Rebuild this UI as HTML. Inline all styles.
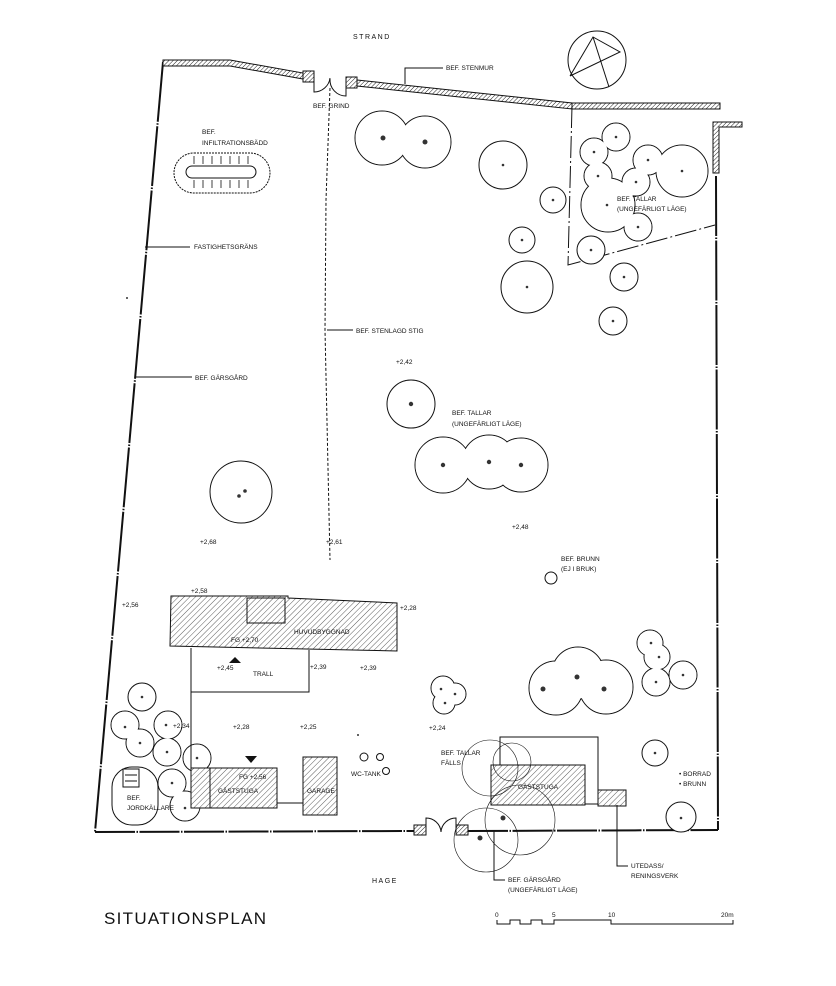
<!DOCTYPE html>
<html><head><meta charset="utf-8"><style>
html,body{margin:0;padding:0;background:#fff}
svg{display:block}
text{font-family:"Liberation Sans",sans-serif;fill:#111}
</style></head><body>
<svg width="836" height="986" viewBox="0 0 836 986" xmlns="http://www.w3.org/2000/svg" font-size="6.5">
<defs>
<pattern id="h" width="3" height="3" patternUnits="userSpaceOnUse" patternTransform="rotate(45)">
<rect width="3" height="3" fill="#fff"/><line x1="0" y1="0" x2="0" y2="3" stroke="#222" stroke-width="1"/></pattern>
<pattern id="h2" width="4" height="4" patternUnits="userSpaceOnUse" patternTransform="rotate(45)">
<rect width="4" height="4" fill="#fff"/><line x1="0" y1="0" x2="0" y2="4" stroke="#333" stroke-width="0.8"/></pattern>
</defs>
<g fill="none" stroke="#111">
<line x1="163" y1="62" x2="95" y2="832" stroke-width="2" stroke-dasharray="60 1.5 1.5 1.5"/>
<line x1="95" y1="832" x2="414" y2="831" stroke-width="2" stroke-dasharray="40 1.5 1.5 1.5"/>
<line x1="468" y1="831" x2="718" y2="830" stroke-width="2" stroke-dasharray="40 1.5 1.5 1.5"/>
<line x1="716" y1="176" x2="718" y2="830" stroke-width="2" stroke-dasharray="60 1.5 1.5 1.5"/>
<polyline points="572,106 568,265 715,225" stroke-width="1" stroke-dasharray="22 3 2 3"/>
<polyline points="330,88 326,200 325,330 330,560" stroke-width="1" stroke-dasharray="3 2"/>
</g>
<g stroke="#111" stroke-width="1" fill="url(#h)">
<polygon points="163,60 230,60 303,73 303,79 230,66 163,66"/>
<rect x="303" y="71" width="11" height="11"/>
<rect x="346" y="77" width="11" height="11"/>
<polygon points="357,80 572,103 572,109 357,86"/>
<rect x="572" y="103" width="148" height="6"/>
<polygon points="713,122 742,122 742,127 719,127 719,173 713,173"/>
<rect x="414" y="825" width="12" height="10"/>
<rect x="456" y="825" width="12" height="10"/>
</g>
<g fill="none" stroke="#111" stroke-width="1">
<path d="M314,75 L314,92 A16,16 0 0 0 330,78"/>
<path d="M346,80 L346,96 A16,16 0 0 1 330,79"/>
<path d="M426,831 L426,818 A15,15 0 0 1 441,832"/>
<path d="M456,831 L456,818 A15,15 0 0 0 441,832"/>
<circle cx="597" cy="60" r="29"/>
<polyline points="570,76 593,37 620,52 570,76"/>
<line x1="593" y1="37" x2="609" y2="87"/>
</g>
<g stroke="#111" stroke-width="1" fill="#fff">
<g><circle cx="382" cy="138" r="27"/><circle cx="425" cy="142" r="26"/><circle cx="382" cy="138" r="26.5" stroke="none"/><circle cx="425" cy="142" r="25.5" stroke="none"/></g>
<circle cx="503" cy="165" r="24"/>
<circle cx="553" cy="200" r="13"/>
<circle cx="522" cy="240" r="13"/>
<circle cx="527" cy="287" r="26"/>
<g><circle cx="616" cy="137" r="14"/><circle cx="594" cy="152" r="14"/><circle cx="598" cy="176" r="14"/><circle cx="608" cy="205" r="27"/><circle cx="636" cy="182" r="14"/><circle cx="648" cy="160" r="15"/><circle cx="682" cy="171" r="26"/><circle cx="638" cy="227" r="14"/>
<g stroke="none"><circle cx="616" cy="137" r="13.5"/><circle cx="594" cy="152" r="13.5"/><circle cx="598" cy="176" r="13.5"/><circle cx="608" cy="205" r="26.5"/><circle cx="636" cy="182" r="13.5"/><circle cx="648" cy="160" r="14.5"/><circle cx="682" cy="171" r="25.5"/><circle cx="638" cy="227" r="13.5"/></g></g>
<circle cx="591" cy="250" r="14"/>
<circle cx="624" cy="277" r="14"/>
<circle cx="613" cy="321" r="14"/>
<circle cx="411" cy="404" r="24"/>
<g><circle cx="443" cy="465" r="28"/><circle cx="489" cy="462" r="27"/><circle cx="521" cy="465" r="27"/><g stroke="none"><circle cx="443" cy="465" r="27.5"/><circle cx="489" cy="462" r="26.5"/><circle cx="521" cy="465" r="26.5"/></g></g>
<circle cx="241" cy="492" r="31"/>
<circle cx="551" cy="578" r="6"/>
<g><circle cx="556" cy="688" r="27"/><circle cx="578" cy="673" r="26"/><circle cx="606" cy="687" r="27"/><g stroke="none"><circle cx="556" cy="688" r="26.5"/><circle cx="578" cy="673" r="25.5"/><circle cx="606" cy="687" r="26.5"/></g></g>
<g><circle cx="650" cy="643" r="13"/><circle cx="657" cy="657" r="13"/><circle cx="656" cy="682" r="14"/><circle cx="683" cy="675" r="14"/><g stroke="none"><circle cx="650" cy="643" r="12.5"/><circle cx="657" cy="657" r="12.5"/><circle cx="656" cy="682" r="13.5"/><circle cx="683" cy="675" r="13.5"/></g></g>
<g><circle cx="443" cy="688" r="12"/><circle cx="455" cy="694" r="11"/><circle cx="444" cy="703" r="11"/><g stroke="none"><circle cx="443" cy="688" r="11.5"/><circle cx="455" cy="694" r="10.5"/><circle cx="444" cy="703" r="10.5"/></g></g>
<circle cx="655" cy="753" r="13"/>
<circle cx="681" cy="817" r="15"/>
<circle cx="142" cy="697" r="14"/>
<g><circle cx="125" cy="725" r="14"/><circle cx="168" cy="725" r="14"/><circle cx="140" cy="743" r="14"/><circle cx="167" cy="752" r="14"/><circle cx="197" cy="758" r="14"/><g stroke="none"><circle cx="125" cy="725" r="13.5"/><circle cx="168" cy="725" r="13.5"/><circle cx="140" cy="743" r="13.5"/><circle cx="167" cy="752" r="13.5"/><circle cx="197" cy="758" r="13.5"/></g></g>
<g><circle cx="172" cy="783" r="14"/><circle cx="185" cy="806" r="15"/><g stroke="none"><circle cx="172" cy="783" r="13.5"/><circle cx="185" cy="806" r="14.5"/></g></g>
</g>
<g fill="#333">
<circle cx="383" cy="138" r="2.5"/><circle cx="425" cy="142" r="2.5"/>
<circle cx="503" cy="165" r="1.3"/><circle cx="553" cy="200" r="1.3"/><circle cx="522" cy="240" r="1.3"/><circle cx="527" cy="287" r="1.3"/>
<circle cx="616" cy="137" r="1.3"/><circle cx="594" cy="152" r="1.3"/><circle cx="598" cy="176" r="1.3"/><circle cx="607" cy="205" r="1.3"/><circle cx="636" cy="182" r="1.3"/><circle cx="648" cy="160" r="1.3"/><circle cx="682" cy="171" r="1.3"/><circle cx="638" cy="227" r="1.3"/>
<circle cx="591" cy="250" r="1.3"/><circle cx="624" cy="277" r="1.3"/><circle cx="613" cy="321" r="1.3"/>
<circle cx="411" cy="404" r="2.2"/><circle cx="443" cy="465" r="2.2"/><circle cx="489" cy="462" r="2.2"/><circle cx="521" cy="465" r="2.2"/>
<circle cx="239" cy="496" r="1.8"/><circle cx="245" cy="491" r="1.8"/>
<circle cx="543" cy="689" r="2.5"/><circle cx="577" cy="677" r="2.5"/><circle cx="604" cy="689" r="2.5"/>
<circle cx="651" cy="643" r="1.3"/><circle cx="659" cy="657" r="1.3"/><circle cx="656" cy="682" r="1.3"/><circle cx="683" cy="675" r="1.3"/>
<circle cx="441" cy="689" r="1.3"/><circle cx="445" cy="703" r="1.3"/><circle cx="455" cy="694" r="1.3"/>
<circle cx="655" cy="753" r="1.3"/><circle cx="681" cy="818" r="1.3"/>
<circle cx="142" cy="697" r="1.3"/><circle cx="125" cy="727" r="1.3"/><circle cx="166" cy="725" r="1.3"/><circle cx="140" cy="743" r="1.3"/><circle cx="167" cy="752" r="1.3"/><circle cx="197" cy="758" r="1.3"/><circle cx="172" cy="783" r="1.3"/><circle cx="185" cy="808" r="1.3"/>
<circle cx="503" cy="818" r="2.5"/><circle cx="480" cy="838" r="2.5"/>
<circle cx="358" cy="735" r="1"/><circle cx="127" cy="298" r="1"/>
</g>
<g stroke="#111" stroke-width="1" fill="url(#h2)">
<polygon points="171,596 288,596 288,598 397,603 397,651 170,646"/>
<rect x="247" y="598" width="38" height="25"/>
<rect x="191" y="768" width="86" height="40"/>
<rect x="191" y="768" width="19" height="40"/>
<rect x="303" y="757" width="34" height="58"/>
<rect x="491" y="765" width="94" height="40"/>
<rect x="598" y="790" width="28" height="16"/>
</g>
<g fill="none" stroke="#111" stroke-width="1">
<polyline points="191,648 191,692 309,692 309,650"/>
<line x1="191" y1="692" x2="191" y2="768"/>
<line x1="277" y1="803" x2="303" y2="803"/>
<polyline points="500,765 500,737 598,737 598,804 585,804"/>
<circle cx="364" cy="757" r="4"/><circle cx="380" cy="757" r="3.5"/><circle cx="386" cy="771" r="3.5"/>
<rect x="112" y="767" width="46" height="58" rx="20" fill="#fff"/>
<rect x="123" y="769" width="16" height="18"/>
<line x1="125" y1="775" x2="137" y2="775"/><line x1="125" y1="781" x2="137" y2="781"/>
<rect x="174" y="153" width="96" height="40" rx="20" stroke-dasharray="2 1"/>
<rect x="186" y="166" width="70" height="12" rx="6"/>
<path d="M194,156v8M203,156v8M212,156v8M221,156v8M230,156v8M239,156v8M248,156v8M194,180v8M203,180v8M212,180v8M221,180v8M230,180v8M239,180v8M248,180v8" stroke-width="0.8"/>
<g stroke-width="0.6">
<circle cx="490" cy="768" r="28"/><circle cx="512" cy="762" r="19"/><circle cx="520" cy="820" r="35"/><circle cx="486" cy="840" r="32"/>
</g>
<polyline points="405,84 405,68 443,68"/>
<line x1="145" y1="247" x2="190" y2="247"/>
<line x1="136" y1="377" x2="192" y2="377"/>
<line x1="327" y1="330" x2="353" y2="330"/>
<polyline points="494,830 494,880 505,880"/>
<polyline points="617,805 617,866 628,866"/>
<polyline points="497,920 497,924 510,924 510,920 520,920 520,924 531,924 531,920 542,920 542,924 554,924 554,920 611,920 611,924 733,924 733,920"/>
</g>
<polygon points="229,663 235,657 241,663" fill="#111"/>
<polygon points="245,756 257,756 251,763" fill="#111"/>
<g>
<text x="353" y="39" style="font-size:7px" letter-spacing="1.5">STRAND</text>
<text x="372" y="883" style="font-size:7px" letter-spacing="1.5">HAGE</text>
<text x="313" y="108">BEF. GRIND</text>
<text x="446" y="70">BEF. STENMUR</text>
<text x="202" y="134">BEF.</text>
<text x="202" y="145">INFILTRATIONSBÄDD</text>
<text x="194" y="249">FASTIGHETSGRÄNS</text>
<text x="356" y="333">BEF. STENLAGD STIG</text>
<text x="195" y="380">BEF. GÄRSGÅRD</text>
<text x="617" y="201">BEF. TALLAR</text>
<text x="617" y="211">(UNGEFÄRLIGT LÄGE)</text>
<text x="396" y="364">+2,42</text>
<text x="452" y="415">BEF. TALLAR</text>
<text x="452" y="426">(UNGEFÄRLIGT LÄGE)</text>
<text x="512" y="529">+2,48</text>
<text x="200" y="544">+2,68</text>
<text x="326" y="544">+2,61</text>
<text x="561" y="561">BEF. BRUNN</text>
<text x="561" y="571">(EJ I BRUK)</text>
<text x="191" y="593">+2,58</text>
<text x="122" y="607">+2,56</text>
<text x="400" y="610">+2,28</text>
<text x="294" y="634">HUVUDBYGGNAD</text>
<text x="231" y="642">FG +2,70</text>
<text x="217" y="670">+2,45</text>
<text x="253" y="676">TRALL</text>
<text x="310" y="669">+2,39</text>
<text x="360" y="670">+2,39</text>
<text x="173" y="728">+2,34</text>
<text x="233" y="729">+2,28</text>
<text x="300" y="729">+2,25</text>
<text x="429" y="730">+2,24</text>
<text x="441" y="755">BEF. TALLAR</text>
<text x="441" y="765">FÄLLS</text>
<text x="239" y="779">FG +2,56</text>
<text x="218" y="793">GÄSTSTUGA</text>
<text x="307" y="793">GARAGE</text>
<text x="351" y="776">WC-TANK</text>
<text x="518" y="789">GÄSTSTUGA</text>
<text x="127" y="800">BEF.</text>
<text x="127" y="810">JORDKÄLLARE</text>
<text x="679" y="776">• BORRAD</text>
<text x="679" y="786">• BRUNN</text>
<text x="508" y="882">BEF. GÄRSGÅRD</text>
<text x="508" y="892">(UNGEFÄRLIGT LÄGE)</text>
<text x="631" y="868">UTEDASS/</text>
<text x="631" y="878">RENINGSVERK</text>
<text x="104" y="924" style="font-size:17px" letter-spacing="1.3" fill="#333">SITUATIONSPLAN</text>
<text x="495" y="917">0</text>
<text x="552" y="917">5</text>
<text x="608" y="917">10</text>
<text x="721" y="917">20m</text>
</g>
</svg>
</body></html>
